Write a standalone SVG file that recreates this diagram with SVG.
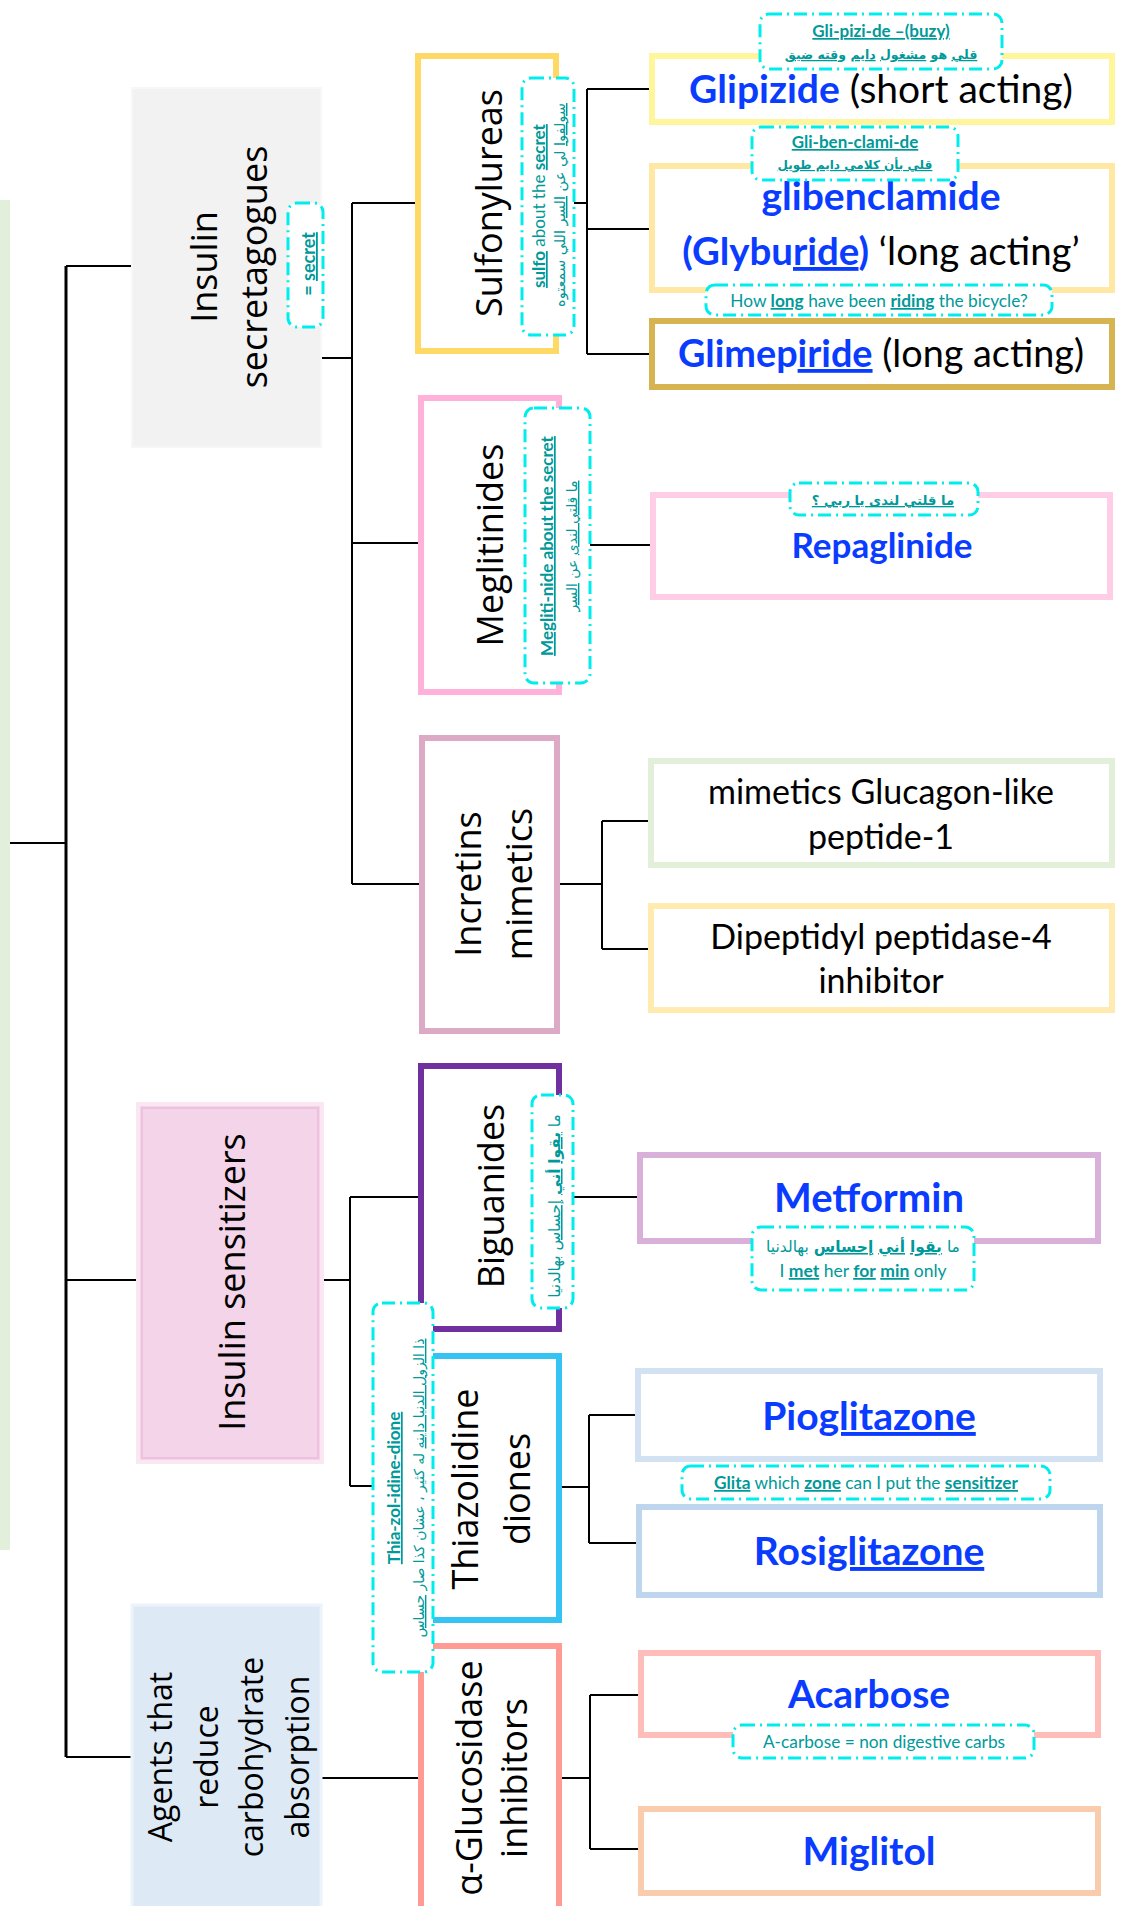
<svg xmlns="http://www.w3.org/2000/svg" width="1122" height="1906" viewBox="0 0 1122 1906">
<style>
.lbl{font-family:"Open Sans",sans-serif;font-size:36px;fill:#000}
.agl{font-size:32px}
.drug{font-family:Lato,"DejaVu Sans",sans-serif;font-weight:700;fill:#0a3cff;font-size:39px}
.pl{font-weight:400;fill:#000}
.blk{font-family:Lato,sans-serif;font-size:34px;fill:#000}
.nt{font-family:Lato,"DejaVu Sans",sans-serif;fill:#009999;font-size:17.3px}
.ar{font-family:"DejaVu Sans",sans-serif;font-size:14px}
.b{font-weight:700}
.u{text-decoration:underline}
.cn{fill:none;stroke:#000;stroke-width:2}
.bx{fill:#fff;stroke-width:6}
.nb{fill:#fff;stroke:#00eded;stroke-width:3;stroke-dasharray:13 5 2 5}
</style>
<rect width="1122" height="1906" fill="#fff"/>
<g id="connectors" class="cn">
<path d="M10,843H66"/>
<path d="M66,266V1757" stroke-width="3"/>
<path d="M66,266H132M66,1280H137M66,1757H132"/>
<path d="M321,358H352M352,203V884M352,203H418M352,543H421M352,884H422"/>
<path d="M556,203H587M587,89V354M587,89H652M587,229H652M587,354H652"/>
<path d="M559,545H653"/>
<path d="M557,884H602M602,821V949M602,821H651M602,949H651"/>
<path d="M323,1280H350M350,1197V1486M350,1197H421M350,1486H422"/>
<path d="M559,1197H640"/>
<path d="M559,1487H589M589,1415V1543M589,1415H638M589,1543H639"/>
<path d="M321,1778H421"/>
<path d="M559,1778H590M590,1695V1849M590,1695H641M590,1849H641"/>
</g>
<g id="root"><rect x="0" y="200" width="10" height="1350" fill="#e2efda"/></g>
<g id="insulin-secretagogues">
<rect x="132" y="88" width="189" height="359" fill="#f2f2f2" stroke="#f7f7f7" stroke-width="2"/>
<text class="lbl" transform="rotate(-90)" text-anchor="middle"><tspan x="-267" y="217">Insulin</tspan><tspan x="-267" y="267">secretagogues</tspan></text>
</g>
<g id="sulfonylureas">
<rect class="bx" x="418" y="56" width="138" height="295" stroke="#ffd966"/>
<text class="lbl" transform="rotate(-90)" text-anchor="middle" x="-203" y="502">Sulfonylureas</text>
</g>
<g id="meglitinides">
<rect class="bx" x="421" y="398" width="138" height="294" stroke="#ffb1d9"/>
<text class="lbl" transform="rotate(-90)" text-anchor="middle" x="-545" y="503">Meglitinides</text>
</g>
<g id="incretins-mimetics">
<rect class="bx" x="422" y="738" width="135" height="293" stroke="#dcaac4"/>
<text class="lbl" transform="rotate(-90)" text-anchor="middle"><tspan x="-884" y="481">Incretins</tspan><tspan x="-884" y="532">mimetics</tspan></text>
</g>
<g id="insulin-sensitizers">
<rect x="138" y="1104" width="184" height="358" fill="#f3d4e9" stroke="#fbe7f2" stroke-width="4"/>
<rect x="142" y="1108" width="176" height="350" fill="none" stroke="#eec2df" stroke-width="2"/>
<text class="lbl" transform="rotate(-90)" text-anchor="middle" x="-1282" y="245">Insulin sensitizers</text>
</g>
<g id="biguanides">
<rect class="bx" x="421" y="1066" width="138" height="263" stroke="#7030a0"/>
<text class="lbl" transform="rotate(-90)" text-anchor="middle" x="-1196" y="504">Biguanides</text>
</g>
<g id="thiazolidinediones">
<rect class="bx" x="422" y="1356" width="137" height="264" stroke="#35c3f3"/>
<text class="lbl" transform="rotate(-90)" text-anchor="middle"><tspan x="-1489" y="478">Thiazolidine</tspan><tspan x="-1489" y="530">diones</tspan></text>
</g>
<g id="agents-carbohydrate">
<rect x="132" y="1605" width="189" height="310" fill="#ddeaf6" stroke="#edf3fa" stroke-width="3"/>
<text class="lbl agl" transform="rotate(-90)" text-anchor="middle"><tspan x="-1757" y="172">Agents that</tspan><tspan x="-1757" y="217.5">reduce</tspan><tspan x="-1757" y="263">carbohydrate</tspan><tspan x="-1757" y="308.5">absorption</tspan></text>
</g>
<g id="alpha-glucosidase">
<rect class="bx" x="421" y="1646" width="138" height="280" stroke="#ff9b93"/>
<text class="lbl" transform="rotate(-90)" text-anchor="middle"><tspan x="-1778" y="482">α-Glucosidase</tspan><tspan x="-1778" y="527">inhibitors</tspan></text>
</g>
<g id="glipizide">
<rect class="bx" x="652" y="56" width="460" height="66" stroke="#fff59d"/>
<text class="drug" x="881" y="103" text-anchor="middle">Glipizide<tspan class="pl"> (short acting)</tspan></text>
</g>
<g id="glibenclamide">
<rect class="bx" x="652" y="166" width="460" height="124" stroke="#ffe8a3"/>
<text class="drug" x="881" y="210" text-anchor="middle">glibenclamide</text>
<text class="drug" x="881" y="265" text-anchor="middle" style="font-size:38.4px">(Glybu<tspan class="u">ride</tspan>)<tspan class="pl"> ‘long acting’</tspan></text>
</g>
<g id="glimepiride">
<rect class="bx" x="652" y="321" width="460" height="66" stroke="#d5b451"/>
<text class="drug" x="881" y="367" text-anchor="middle" style="font-size:37.8px">Glimep<tspan class="u">iride</tspan><tspan class="pl"> (long acting)</tspan></text>
</g>
<g id="repaglinide">
<rect class="bx" x="653" y="495" width="457" height="102" stroke="#ffcde5"/>
<text class="drug" x="882" y="558" text-anchor="middle" style="font-size:35px">Repaglinide</text>
</g>
<g id="glp1">
<rect class="bx" x="651" y="761" width="461" height="104" stroke="#e2efd9"/>
<text class="blk" text-anchor="middle"><tspan x="881" y="804">mimetics Glucagon-like</tspan><tspan x="881" y="849">peptide-1</tspan></text>
</g>
<g id="dpp4">
<rect class="bx" x="651" y="906" width="461" height="104" stroke="#ffeab0"/>
<text class="blk" text-anchor="middle"><tspan x="881" y="949">Dipeptidyl peptidase-4</tspan><tspan x="881" y="993">inhibitor</tspan></text>
</g>
<g id="metformin">
<rect class="bx" x="640" y="1155" width="458" height="86" stroke="#d9b0da"/>
<text class="drug" x="869" y="1212" text-anchor="middle" style="font-size:40px">Metformin</text>
</g>
<g id="pioglitazone">
<rect class="bx" x="638" y="1371" width="462" height="88" stroke="#d2e2f3"/>
<text class="drug" x="869" y="1430" text-anchor="middle">Pio<tspan class="u">glitazone</tspan></text>
</g>
<g id="rosiglitazone">
<rect class="bx" x="639" y="1507" width="461" height="88" stroke="#bdd6ee"/>
<text class="drug" x="869" y="1565" text-anchor="middle">Rosi<tspan class="u">glitazone</tspan></text>
</g>
<g id="acarbose">
<rect class="bx" x="641" y="1653" width="457" height="82" stroke="#ffbdba"/>
<text class="drug" x="869" y="1708" text-anchor="middle">Acarbose</text>
</g>
<g id="miglitol">
<rect class="bx" x="641" y="1809" width="457" height="84" stroke="#f9ccae"/>
<text class="drug" x="869" y="1865" text-anchor="middle">Miglitol</text>
</g>
<g id="note-secret">
<rect class="nb" x="288" y="203" width="35" height="124" rx="9"/>
<text class="nt b" transform="rotate(-90)" text-anchor="middle" x="-264" y="315" style="font-size:18px">= <tspan class="u">secret</tspan></text>
</g>
<g id="note-sulfo">
<rect class="nb" x="522" y="78" width="52" height="257" rx="9"/>
<text class="nt" transform="rotate(-90)" text-anchor="middle" x="-206" y="545" style="font-size:17px"><tspan class="b u">sulfo</tspan> about the <tspan class="b u">secret</tspan></text>
<text class="nt ar" transform="rotate(-90)" text-anchor="middle" direction="rtl" x="-205" y="565" style="font-size:14.5px"><tspan class="u">سولفوا</tspan> لي عن <tspan class="u">السر</tspan> اللي سمعتوه</text>
</g>
<g id="note-glipizide">
<rect class="nb" x="760" y="14" width="242" height="55" rx="9"/>
<text class="nt b u" x="881" y="37" text-anchor="middle" style="font-size:17px">Gli-pizi-de –(buzy)</text>
<text class="nt ar b" x="881" y="59" text-anchor="middle" direction="rtl" style="font-size:12.5px"><tspan class="u">قلي</tspan> هو <tspan class="u">مشغول</tspan> <tspan class="u">دايم</tspan> <tspan class="u">وقته ضيق</tspan></text>
</g>
<g id="note-glibenclamide">
<rect class="nb" x="752" y="127" width="206" height="53" rx="9"/>
<text class="nt b u" x="855" y="148" text-anchor="middle" style="font-size:17px">Gli-ben-clami-de</text>
<text class="nt ar b u" x="855" y="169" text-anchor="middle" direction="rtl" style="font-size:12px">قلي بأن كلامي دايم طويل</text>
</g>
<g id="note-riding">
<rect class="nb" x="706" y="285" width="346" height="30" rx="9"/>
<text class="nt" x="879" y="307" text-anchor="middle">How <tspan class="b u">long</tspan> have been <tspan class="b u">riding</tspan> the bicycle?</text>
</g>
<g id="note-meglitinides">
<rect class="nb" x="525" y="408" width="65" height="275" rx="9"/>
<text class="nt b u" transform="rotate(-90)" text-anchor="middle" x="-546" y="553" style="font-size:17px">Megliti-nide about the secret</text>
<text class="nt ar" transform="rotate(-90)" text-anchor="middle" direction="rtl" x="-546" y="577"><tspan class="u">ما قلتي لندى</tspan> عن <tspan class="u">السر</tspan></text>
</g>
<g id="note-repaglinide">
<rect class="nb" x="790" y="483" width="188" height="32" rx="9"/>
<text class="nt ar b u" x="883" y="505" text-anchor="middle" direction="rtl" style="font-size:13.2px">ما قلتي لندى يا ربي ؟</text>
</g>
<g id="note-biguanides">
<rect class="nb" x="532" y="1095" width="41" height="213" rx="9"/>
<text class="nt ar" transform="rotate(-90)" text-anchor="middle" direction="rtl" x="-1206" y="560" style="font-size:15.3px">ما <tspan class="b u">بقوا</tspan> <tspan class="b u">أني</tspan> <tspan class="u">إحساس</tspan> بهالدنيا</text>
</g>
<g id="note-metformin">
<rect class="nb" x="752" y="1227" width="222" height="63" rx="9"/>
<text class="nt ar" x="863" y="1252" text-anchor="middle" direction="rtl" style="font-size:15.5px">ما <tspan class="b u">بقوا</tspan> <tspan class="b u">أني</tspan> <tspan class="b u">إحساس</tspan> بهالدنيا</text>
<text class="nt" x="863" y="1277" text-anchor="middle" style="font-size:17.5px">I <tspan class="b u">met</tspan> her <tspan class="b u">for</tspan> <tspan class="b u">min</tspan> only</text>
</g>
<g id="note-thiazolidinedione">
<rect class="nb" x="373" y="1303" width="60" height="369" rx="9"/>
<text class="nt b u" transform="rotate(-90)" text-anchor="middle" x="-1488" y="400" style="font-size:17px">Thia-zol-idine-dione</text>
<text class="nt ar" transform="rotate(-90)" text-anchor="middle" direction="rtl" x="-1488" y="424"><tspan class="u">ذا الزول الدنيا داينه</tspan> له كثير ، عشان كذا صار <tspan class="u">حساس</tspan></text>
</g>
<g id="note-glita">
<rect class="nb" x="682" y="1466" width="368" height="33" rx="9"/>
<text class="nt" x="866" y="1489" text-anchor="middle"><tspan class="b u">Glita</tspan> which <tspan class="b u">zone</tspan> can I put the <tspan class="b u">sensitizer</tspan></text>
</g>
<g id="note-acarbose">
<rect class="nb" x="733" y="1725" width="301" height="33" rx="9"/>
<text class="nt" x="884" y="1748" text-anchor="middle">A-carbose = non digestive carbs</text>
</g>
</svg>
